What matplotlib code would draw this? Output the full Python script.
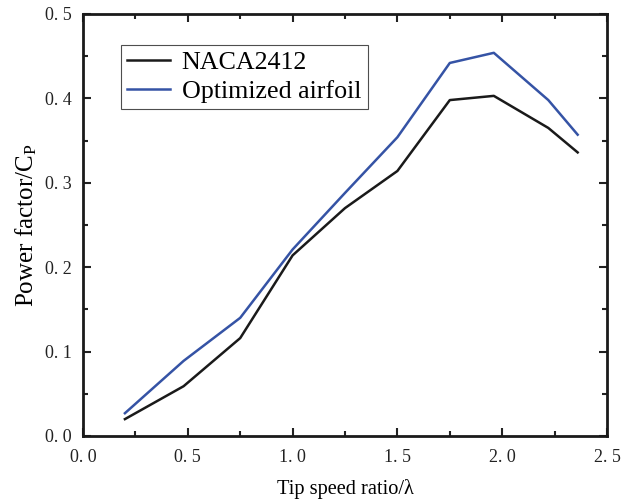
import matplotlib
matplotlib.use("Agg")
import matplotlib.pyplot as plt
from matplotlib.ticker import MultipleLocator, FuncFormatter

# data
tsr = [0.20, 0.48, 0.75, 1.00, 1.25, 1.50, 1.75, 1.96, 2.22, 2.36]
cp_naca = [0.020, 0.059, 0.116, 0.214, 0.270, 0.314, 0.398, 0.403, 0.365, 0.336]
cp_opt = [0.027, 0.089, 0.140, 0.221, 0.288, 0.354, 0.442, 0.454, 0.398, 0.357]

plt.rcParams['font.family'] = ['Liberation Serif', 'DejaVu Serif']
plt.rcParams['mathtext.fontset'] = 'stix'

fig = plt.figure(figsize=(6.21, 5.0), dpi=100)
ax = fig.add_axes([83 / 621, 64 / 500, 524 / 621, 422 / 500])

ax.plot(tsr, cp_naca, color='#1a1a1a', lw=1.8, label='NACA2412')
ax.plot(tsr, cp_opt, color='#3553a5', lw=1.8, label='Optimized airfoil')

ax.set_xlim(0, 2.5)
ax.set_ylim(0, 0.5)
ax.xaxis.set_major_locator(MultipleLocator(0.5))
ax.xaxis.set_minor_locator(MultipleLocator(0.25))
ax.yaxis.set_major_locator(MultipleLocator(0.1))
ax.yaxis.set_minor_locator(MultipleLocator(0.05))

fmt = FuncFormatter(lambda v, p: f"{v:.1f}".replace('.', '. '))
ax.xaxis.set_major_formatter(fmt)
ax.yaxis.set_major_formatter(fmt)

ax.tick_params(which='both', direction='in', top=True, right=True, width=1.5,
               labelsize=13, colors='#222222')
ax.tick_params(which='major', length=6)
ax.tick_params(axis='x', which='major', pad=9)
ax.tick_params(axis='y', which='major', pad=8)
ax.tick_params(which='minor', length=3.5)
for s in ax.spines.values():
    s.set_linewidth(2)
    s.set_color('#1a1a1a')

ax.set_xlabel('Tip speed ratio/λ', fontsize=14.7, labelpad=10)
ax.set_ylabel('Power factor/C$_\\mathregular{P}$', fontsize=18, labelpad=4)

leg = ax.legend(loc='upper left', bbox_to_anchor=(0.072, 0.927), fontsize=18.7,
                frameon=True, fancybox=False, edgecolor='#222222',
                handlelength=1.65, handletextpad=0.45, borderpad=0.25,
                borderaxespad=0, labelspacing=0.2)
leg.get_frame().set_linewidth(0.8)

fig.savefig('out.png', dpi=100)
